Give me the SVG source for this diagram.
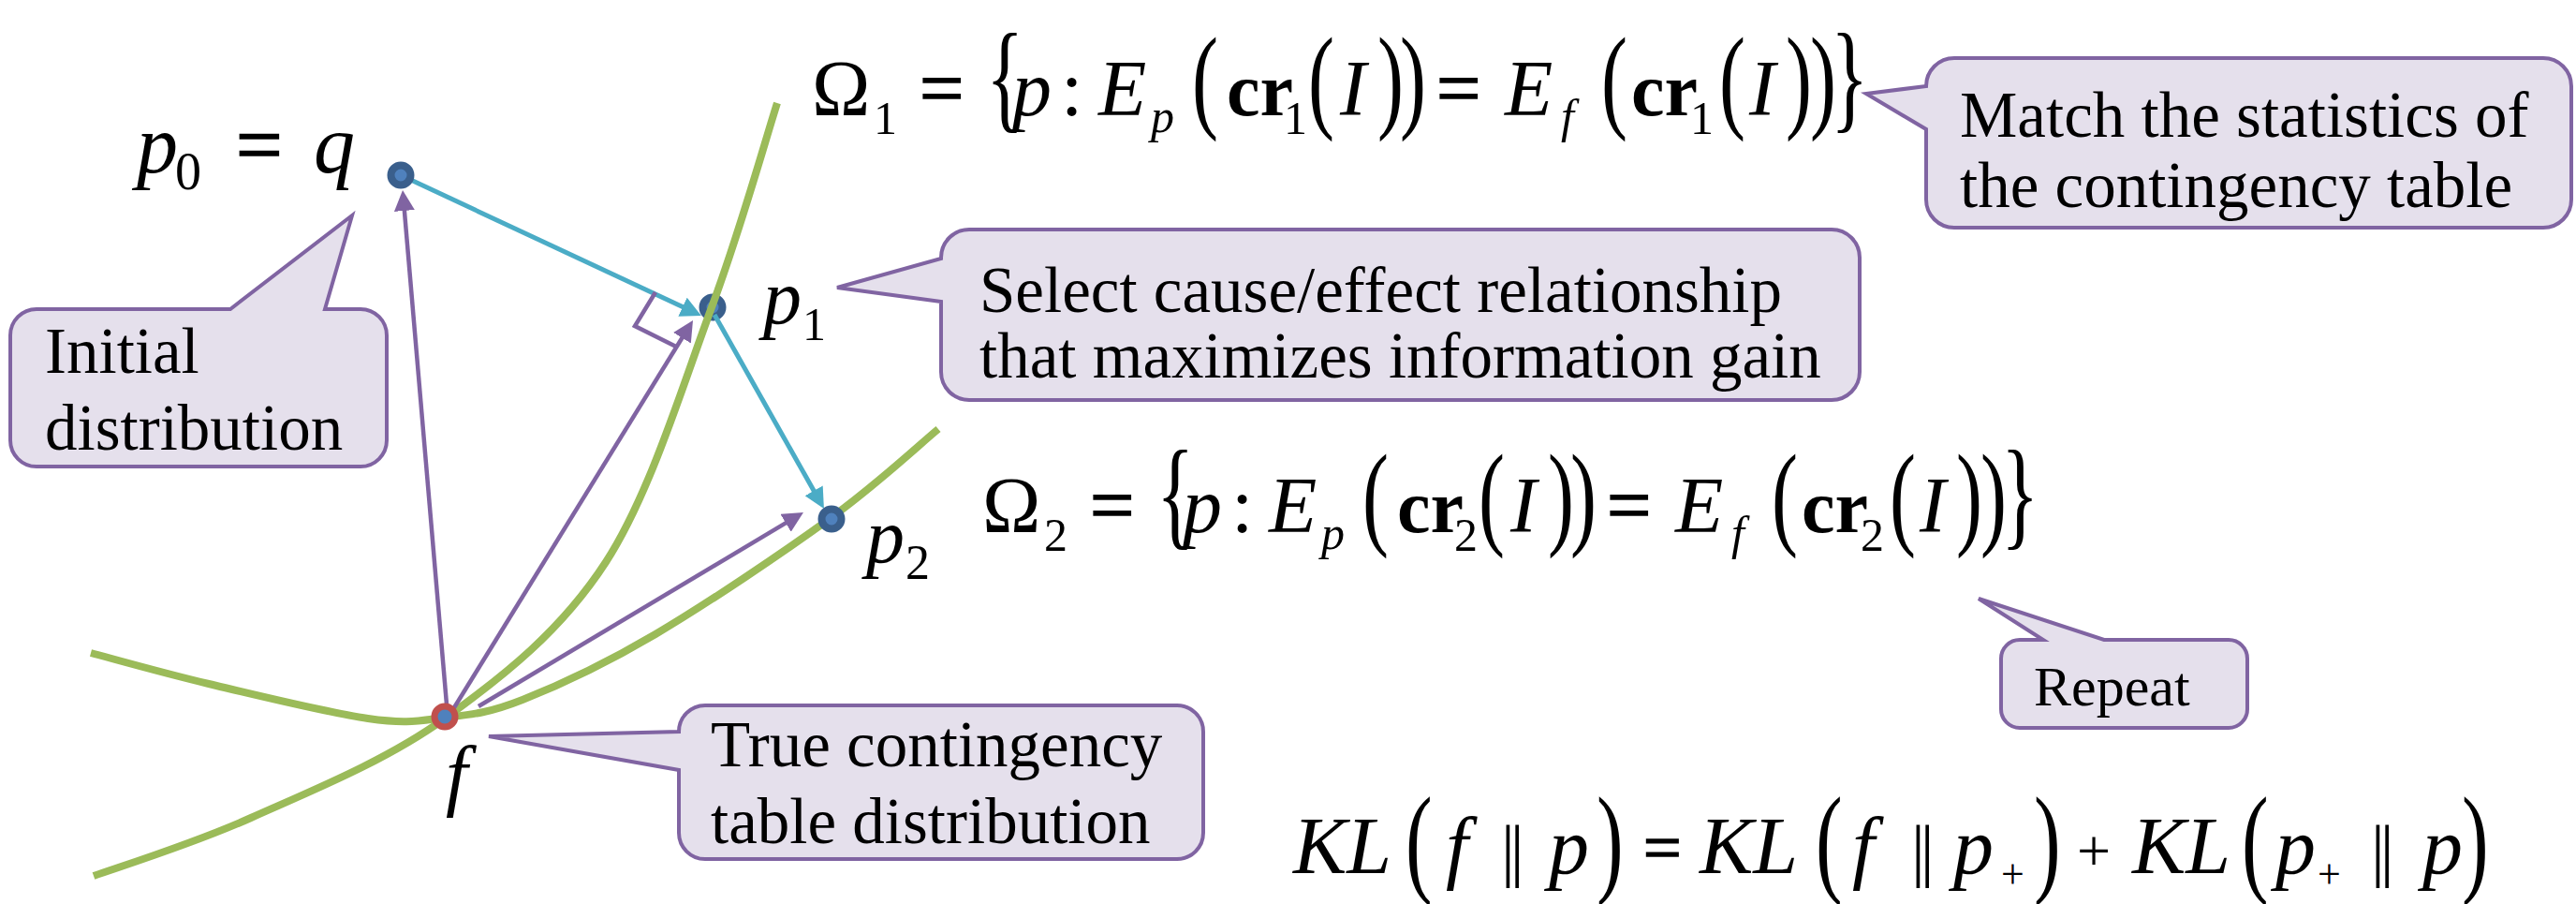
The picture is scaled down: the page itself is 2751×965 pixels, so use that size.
<svg xmlns="http://www.w3.org/2000/svg" xmlns:xlink="http://www.w3.org/1999/xlink" width="2751" height="965" viewBox="0 0 2751 965">
<style>
.t{font-family:"Liberation Serif","Times New Roman",serif;fill:#000}
.i{font-style:italic}
.b{font-weight:bold}
.eqs{stroke:#000;stroke-width:1.6}
.co{fill:#e5e0ec;stroke:#8064a2;stroke-width:4;stroke-linejoin:miter}
.lbl{font-size:69px}
.curve{fill:none;stroke:#9bbb59;stroke-width:8}
.pl{fill:none;stroke:#8064a2;stroke-width:4.5}
.tl{fill:none;stroke:#4bacc6;stroke-width:5}
.dot{fill:#4f81bd;stroke:#3a5f8c;stroke-width:8}
.fdot{fill:#4f81bd;stroke:#c0504d;stroke-width:7}
.eq{font-size:84px}
.sub{font-size:50px}
</style>
<defs>
<marker id="ahp" viewBox="0 0 22 22" refX="14" refY="11" markerWidth="22" markerHeight="22" markerUnits="userSpaceOnUse" orient="auto"><path d="M0,0 L22,11 L0,22 z" fill="#8064a2"/></marker>
<marker id="aht" viewBox="0 0 22 22" refX="14" refY="11" markerWidth="22" markerHeight="22" markerUnits="userSpaceOnUse" orient="auto"><path d="M0,0 L22,11 L0,22 z" fill="#4bacc6"/></marker>
<g id="eqbody" class="t eq">
<text x="0" y="0">Ω</text>
<text class="eqs" x="115" y="0">=</text>
<text transform="translate(186,2) scale(1,1.55)">{</text>
<text class="i" x="214" y="0">p</text>
<text x="266" y="0">:</text>
<text class="i" x="306" y="0">E</text>
<text class="i sub" x="362" y="18">p</text>
<text transform="translate(406,2) scale(1,1.45)">(</text>
<text class="b" x="443" y="0" font-size="80">cr</text>
<text transform="translate(530,2) scale(1,1.45)">(</text>
<text class="i" x="564" y="0">I</text>
<text transform="translate(604,2) scale(1,1.45)">)</text>
<text transform="translate(628,2) scale(1,1.45)">)</text>
<text class="eqs" x="667" y="0">=</text>
<text class="i" x="740" y="0">E</text>
<text class="i sub" x="800" y="18">f</text>
<text transform="translate(843,2) scale(1,1.45)">(</text>
<text class="b" x="875" y="0" font-size="80">cr</text>
<text transform="translate(969,2) scale(1,1.45)">(</text>
<text class="i" x="1001" y="0">I</text>
<text transform="translate(1040,2) scale(1,1.45)">)</text>
<text transform="translate(1066,2) scale(1,1.45)">)</text>
<text transform="translate(1088,2) scale(1,1.55)">}</text>
</g>
</defs>

<g id="node-p1">
<circle class="dot" cx="761" cy="328" r="10.5"/>
</g>

<g id="curves">
<path class="curve" d="M100,935 C128,925 205.5,901 268,873 C330.5,845 411.8,812.5 475,767 C538.2,721.5 599.5,673.2 647,600 C694.5,526.8 729.5,409.7 760,328 C790.5,246.3 818.3,146.3 830,110"/>
<path class="curve" d="M97,697 C118,702.5 173.7,718.3 223,730 C272.3,741.7 351,761 393,767 C435,773 447.5,769.3 475,766 C502.5,762.7 520.5,761.8 558,747 C595.5,732.2 645.2,709.3 700,677 C754.8,644.7 836.7,589.5 887,553 C937.3,516.5 982.8,473.8 1002,458"/>
</g>

<g id="connectors">
<line class="pl" x1="477" y1="752" x2="430.7" y2="211" marker-end="url(#ahp)"/>
<line class="pl" x1="484" y1="757" x2="735.8" y2="348.8" marker-end="url(#ahp)"/>
<line class="pl" x1="511" y1="754" x2="851.1" y2="551.1" marker-end="url(#ahp)"/>
<line class="tl" x1="428" y1="187" x2="741.7" y2="333.6" marker-end="url(#aht)"/>
<line class="tl" x1="763" y1="336" x2="876" y2="536" marker-end="url(#aht)"/>
<polyline class="pl" points="700,312 678,348 722,370"/>
</g>

<g id="node-p0">
<circle class="dot" cx="428" cy="187" r="10.5"/>
<text class="t i" x="146" y="184" font-size="88">p</text>
<text class="t" x="187" y="202" font-size="56">0</text>
<text class="t eqs" x="252" y="184" font-size="88">=</text>
<text class="t i" x="335" y="184" font-size="88">q</text>
</g>
<g id="label-p1">
<text class="t i" x="815" y="345" font-size="82">p</text>
<text class="t" x="857" y="363" font-size="50">1</text>
</g>
<g id="node-p2">
<circle class="dot" cx="888" cy="554" r="10.5"/>
<text class="t i" x="925" y="600" font-size="82">p</text>
<text class="t" x="967" y="618" font-size="52">2</text>
</g>
<g id="node-f">
<circle class="fdot" cx="475" cy="765" r="11"/>
<text class="t i" x="476" y="855" font-size="84">f</text>
</g>

<g id="callout-initial">
<path class="co" d="M39,330 H246 L376,230 L347,330 H385 A28,28 0 0 1 413,358 V470 A28,28 0 0 1 385,498 H39 A28,28 0 0 1 11,470 V358 A28,28 0 0 1 39,330 Z"/>
<text class="t lbl" x="48" y="398">Initial</text>
<text class="t lbl" x="48" y="480">distribution</text>
</g>
<g id="callout-select">
<path class="co" d="M1035,245 H1956 A30,30 0 0 1 1986,275 V397 A30,30 0 0 1 1956,427 H1035 A30,30 0 0 1 1005,397 V322 L894,307 L1005,276 V275 A30,30 0 0 1 1035,245 Z"/>
<text class="t lbl" x="1046" y="333">Select cause/effect relationship</text>
<text class="t lbl" x="1046" y="403">that maximizes information gain</text>
</g>
<g id="callout-match">
<path class="co" d="M2087,62 H2716 A30,30 0 0 1 2746,92 V213 A30,30 0 0 1 2716,243 H2087 A30,30 0 0 1 2057,213 V138 L1993,100 L2057,92 A30,30 0 0 1 2087,62 Z"/>
<text class="t lbl" x="2093" y="146">Match the statistics of</text>
<text class="t lbl" x="2093" y="221">the contingency table</text>
</g>
<g id="callout-true">
<path class="co" d="M753,753 H1257 A28,28 0 0 1 1285,781 V889 A28,28 0 0 1 1257,917 H753 A28,28 0 0 1 725,889 V822 L522,786 L725,781 A28,28 0 0 1 753,753 Z"/>
<text class="t lbl" x="759" y="818">True contingency</text>
<text class="t lbl" x="759" y="900">table distribution</text>
</g>
<g id="callout-repeat">
<path class="co" d="M2157,683 H2182 L2113,639 L2247,683 H2380 A20,20 0 0 1 2400,703 V757 A20,20 0 0 1 2380,777 H2157 A20,20 0 0 1 2137,757 V703 A20,20 0 0 1 2157,683 Z"/>
<text class="t" x="2172" y="753" font-size="60">Repeat</text>
</g>

<g id="omega1" transform="translate(867,123)">
<use xlink:href="#eqbody" href="#eqbody"/>
<g class="t sub">
<text x="66" y="20">1</text>
<text x="504" y="20">1</text>
<text x="938" y="20">1</text>
</g>
</g>
<g id="omega2" transform="translate(1049,568)">
<use xlink:href="#eqbody" href="#eqbody"/>
<g class="t sub">
<text x="66" y="20">2</text>
<text x="504" y="20">2</text>
<text x="938" y="20">2</text>
</g>
</g>

<g id="kl" class="t" transform="translate(1381,932)" font-size="86">
<text class="i" x="0" y="0">KL</text>
<text transform="translate(120,8) scale(1,1.5)">(</text>
<text class="i" x="163" y="0">f</text>
<text x="222" y="0" font-size="74" letter-spacing="-5">||</text>
<text class="i" x="273" y="0">p</text>
<text transform="translate(324,8) scale(1,1.5)">)</text>
<text class="eqs" x="374" y="-3" font-size="72">=</text>
<text class="i" x="434" y="0">KL</text>
<text transform="translate(558,8) scale(1,1.5)">(</text>
<text class="i" x="597" y="0">f</text>
<text x="660" y="0" font-size="74" letter-spacing="-5">||</text>
<text class="i" x="705" y="0">p</text>
<text x="756" y="16" font-size="44">+</text>
<text transform="translate(791,8) scale(1,1.5)">)</text>
<text x="837" y="-2" font-size="64">+</text>
<text class="i" x="896" y="0">KL</text>
<text transform="translate(1013,8) scale(1,1.5)">(</text>
<text class="i" x="1049" y="0">p</text>
<text x="1094" y="16" font-size="44">+</text>
<text x="1151" y="0" font-size="74" letter-spacing="-5">||</text>
<text class="i" x="1206" y="0">p</text>
<text transform="translate(1248,8) scale(1,1.5)">)</text>
</g>
</svg>
